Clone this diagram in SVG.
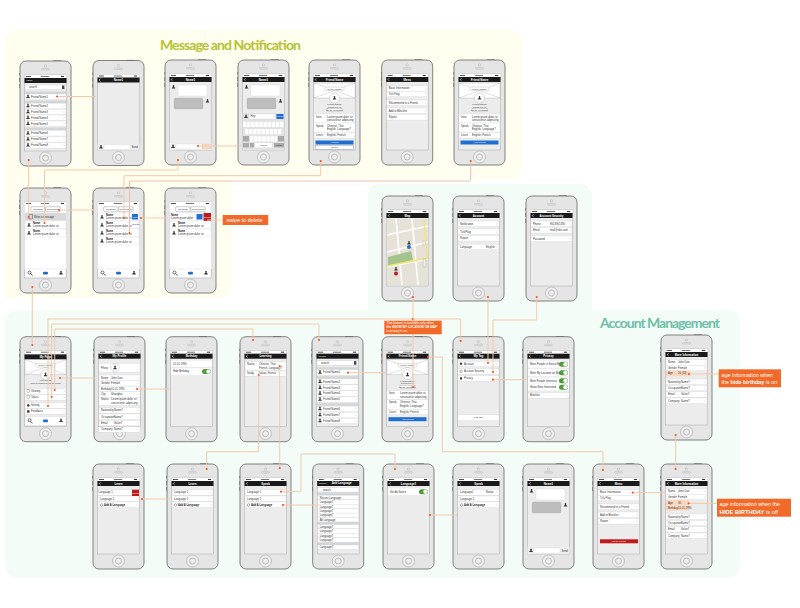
<svg xmlns="http://www.w3.org/2000/svg" xmlns:xlink="http://www.w3.org/1999/xlink" width="800" height="608" viewBox="0 0 800 608">
<style>
text{font-family:"Liberation Sans",Arial,sans-serif}
.t{font-size:2.7px;fill:#333}
.b{font-size:2.7px;fill:#222;font-weight:bold}
.n{font-size:2.9px;fill:#fff;font-weight:bold;text-anchor:middle}
.w{font-size:2.5px;fill:#fff}
.c{font-size:2.5px;fill:#333;text-anchor:middle}
.title{font-family:"Lato","Open Sans",sans-serif;font-size:14px;font-weight:bold}
.lab{font-size:5.4px;fill:#fff}
.lab2{font-size:5.8px;fill:#fff}
.lab3{font-size:3.1px;fill:#fff}
.wire{fill:none;stroke:#f3c9ab;stroke-width:1;marker-start:url(#dot)}
.both{fill:none;stroke:#f3c9ab;stroke-width:1;marker-start:url(#dot);marker-end:url(#dot)}
.wire2{fill:none;stroke:#ecc2ae;stroke-width:1;marker-start:url(#dot);marker-end:url(#dot)}
.plain{fill:none;stroke:#f3c9ab;stroke-width:1}
</style>
<defs>
<marker id="dot" markerUnits="userSpaceOnUse" markerWidth="4" markerHeight="4" refX="2" refY="2"><circle cx="2" cy="2" r="1.1" fill="#f15a22"/></marker>
<g id="phone">
<rect x="-.6" y="12" width="1" height="2.4" fill="#666"/><rect x="-.6" y="17" width="1" height="4" fill="#666"/><rect x="-.6" y="23" width="1" height="4" fill="#666"/><rect x="33" y="-.6" width="8" height="1" fill="#666"/>
<rect x="0" y="0" width="51" height="105" rx="6" fill="#e5e5e5" stroke="#666" stroke-width=".8"/>
<circle cx="25.5" cy="5" r="1.2" fill="none" stroke="#aaa" stroke-width=".4"/><rect x="21.5" y="7.6" width="8" height="1.4" rx=".7" fill="none" stroke="#aaa" stroke-width=".4"/>
<circle cx="25.5" cy="97" r="6" fill="#eee" stroke="#9a9a9a" stroke-width=".5"/><circle cx="25.5" cy="97" r="3" fill="none" stroke="#888" stroke-width=".5"/>
<rect x="4.5" y="14" width="42" height="76" fill="#ececec" stroke="#aaa" stroke-width=".5"/>
<rect x="4.5" y="14" width="42" height="3" fill="#fff"/><rect x="6" y="15" width="5" height="1" fill="#555"/><rect x="21" y="15" width="8" height="1" fill="#777"/><rect x="41" y="15" width="3" height="1" fill="#333"/>
</g>
<g id="nav"><rect x="4.5" y="17" width="42" height="5" fill="#1a1a1a"/><path d="M7.5 18.2 6.2 19.5 7.5 20.8" fill="none" stroke="#fff" stroke-width=".6"/></g>
<g id="r"><rect x="5" y="0" width="41" height="5.5" fill="#fff" stroke="#ccc" stroke-width=".3"/><path d="M43.5 1.8 44.5 2.8 43.5 3.8" fill="none" stroke="#aaa" stroke-width=".3"/></g>
<path id="av" d="M-.8 -1.1a.8 1 0 1 1 1.6 0q0 .8 -.4 1.1q1.2 .3 1.5 1.6h-3.8q.3 -1.3 1.5 -1.6q-.4 -.3 -.4 -1.1" fill="#333"/>
<g id="toggle"><rect x="0" y="0" width="9" height="5" rx="2.5" fill="#4f9a3b"/><circle cx="6.5" cy="2.5" r="2.2" fill="#fff" stroke="#bbb" stroke-width=".2"/></g>
<g id="sec"><rect x="5" y="0" width="41" height="2.6" fill="#d2d6d8"/></g>
<g id="tab"><rect x="5" y="0" width="41" height="8.5" fill="#fff" stroke="#ccc" stroke-width=".3"/><circle cx="9.5" cy="3.5" r="1.5" fill="none" stroke="#333" stroke-width=".7"/><path d="M10.5 4.6 12.5 6.7" stroke="#333" stroke-width=".8"/><rect x="23" y="2.8" width="5" height="2.8" rx="1" fill="#1f6fd0"/><use href="#av" x="41" y="3.8"/></g>
<g id="cover"><rect x="5" y="0" width="41" height="15" fill="#fff" stroke="#999" stroke-width=".3"/><path d="M5 0 46 15M46 0 5 15" stroke="#999" stroke-width=".3"/><rect x="16" y="4" width="19" height="3.4" rx="1" fill="#fff" stroke="#999" stroke-width=".3"/><text class="c" x="25.5" y="6.5">Cover Image</text><circle cx="25.5" cy="15" r="5" fill="#fff" stroke="#888" stroke-width=".3"/><use href="#av" x="25.5" y="15"/></g>
<g id="list">
<rect x="5" y="24" width="41" height="4.5" fill="#fff" stroke="#bbb" stroke-width=".3"/><text class="t" x="9" y="27.2">search</text><rect x="42" y="24.5" width="2.4" height="3.5" fill="#444"/>
<use href="#sec" y="30.5"/><use href="#r" y="33"/><use href="#av" x="8" y="35.5"/><text class="t" x="11" y="36.7">Friend Name1</text>
<use href="#sec" y="39.5"/><use href="#r" y="42.2"/><use href="#av" x="8" y="44.7"/><text class="t" x="11" y="45.9">Friend Name2</text>
<use href="#r" y="48.2"/><use href="#av" x="8" y="50.7"/><text class="t" x="11" y="51.9">Friend Name3</text>
<use href="#r" y="54"/><use href="#av" x="8" y="56.5"/><text class="t" x="11" y="57.7">Friend Name4</text>
<use href="#r" y="60"/><use href="#av" x="8" y="62.5"/><text class="t" x="11" y="63.7">Friend Name5</text>
<use href="#sec" y="66.5"/><use href="#r" y="69.5"/><use href="#av" x="8" y="72"/><text class="t" x="11" y="73.2">Friend Name6</text>
<use href="#r" y="75.5"/><use href="#av" x="8" y="78"/><text class="t" x="11" y="79.2">Friend Name7</text>
<use href="#r" y="81.5"/><use href="#av" x="8" y="84"/><text class="t" x="11" y="85.2">Friend Name8</text>
</g>
<g id="chatbar"><rect x="4.5" y="83" width="42" height="7" fill="#eee"/><use href="#av" x="8" y="86.5"/><rect x="11" y="84" width="26" height="5" fill="#fff" stroke="#ccc" stroke-width=".3"/><text class="t" x="38.5" y="87.5">Send</text></g>
<g id="bubbles"><rect x="13" y="25" width="29" height="11" rx="1.5" fill="#fff" stroke="#ccc" stroke-width=".3"/><rect x="9" y="38" width="29" height="11" rx="1.5" fill="#bdbdbd" stroke="#aaa" stroke-width=".3"/><use href="#av" x="8.5" y="27"/><use href="#av" x="42.5" y="41"/></g>
<g id="person"><text class="c" x="25.5" y="45">Friend Name</text><text class="c" x="25.5" y="47.8">Korea  17 yo</text><rect x="18" y="48.8" width="15" height="3" fill="#fff" stroke="#888" stroke-width=".3"/><text class="c" x="25.5" y="51">Send Message</text>
<rect x="5" y="54" width="41" height="9" fill="#fff" stroke="#ccc" stroke-width=".3"/><text class="t" x="7" y="57.5">Intro</text><text class="t" x="18" y="57.5">Lorem ipsum dolor sit</text><text class="t" x="18" y="61">consectetur adipiscing</text>
<rect x="5" y="63" width="41" height="9.5" fill="#fff" stroke="#ccc" stroke-width=".3"/><text class="t" x="7" y="66.5">Speak</text><text class="t" x="18" y="66.5">Chinese, Thai</text><text class="t" x="18" y="70">English, Language?</text>
<rect x="5" y="72.5" width="41" height="5.5" fill="#fff" stroke="#ccc" stroke-width=".3"/><text class="t" x="7" y="76">Learn</text><text class="t" x="18" y="76">English, French</text></g>
<g id="lang"><use href="#r" y="25.7"/><use href="#r" y="32"/><use href="#r" y="38"/><circle cx="8.5" cy="41" r="1.3" fill="none" stroke="#333" stroke-width=".4"/><text class="b" x="11" y="42">Add A Language</text></g>
<g id="menu"><use href="#r" y="25.7"/><text class="t" x="7" y="29.3">Basic Information</text><use href="#r" y="31.2"/><text class="t" x="7" y="34.8">Tick Flag</text><use href="#r" y="40"/><text class="t" x="7" y="43.6">Recommend to a Friend</text><use href="#r" y="48"/><text class="t" x="7" y="51.6">Add to Blocklist</text><use href="#r" y="54.5"/><text class="t" x="7" y="58.1">Report</text></g>
<g id="info"><use href="#r" y="0"/><text class="t" x="7" y="3.6">Name</text><text class="t" x="17" y="3.6">John Doe</text><use href="#r" y="5.5"/><text class="t" x="7" y="9.1">Gender</text><text class="t" x="17" y="9.1">Female</text></g>
<g id="info2"><use href="#r" y="0"/><text class="t" x="7" y="3.6">Nationality</text><text class="t" x="20" y="3.6">Name7</text><use href="#r" y="6.3"/><text class="t" x="7" y="9.9">Occupation</text><text class="t" x="20" y="9.9">Name7</text><use href="#r" y="12.6"/><text class="t" x="7" y="16.2">Email</text><text class="t" x="20" y="16.2">Value7</text><use href="#r" y="19"/><text class="t" x="7" y="22.6">Company</text><text class="t" x="20" y="22.6">Name7</text></g>
<g id="msgs"><rect x="5" y="0" width="41" height="8" fill="#fff" stroke="#ccc" stroke-width=".3"/><use href="#av" x="9" y="4"/><text class="b" x="13" y="3">Name</text><text class="t" x="13" y="6.2">Lorem ipsum dolor sit</text></g>
<g id="tabs"><rect x="10.7" y="18.7" width="14.5" height="5" rx="1" fill="#fff" stroke="#555" stroke-width=".3"/><rect x="25.7" y="18.7" width="14.5" height="5" rx="1" fill="#fff" stroke="#555" stroke-width=".3"/><text class="c" x="18" y="22">Message</text><text class="c" x="33" y="22">Notification</text></g>
</defs>

<g id="panels">
<path d="M17 30H510a12 12 0 0 1 12 12V167a12 12 0 0 1 -12 12H232V286a12 12 0 0 1 -12 12H5V42a12 12 0 0 1 12 -12Z" fill="#fffeef"/>
<path d="M380 184H580a12 12 0 0 1 12 12V310H728a12 12 0 0 1 12 12V566a12 12 0 0 1 -12 12H17a12 12 0 0 1 -12 -12V322a12 12 0 0 1 12 -12H368V196a12 12 0 0 1 12 -12Z" fill="#f3fcf7"/>
<text class="title" x="160" y="50" fill="#b5c334" textLength="141">Message and Notification</text>
<text class="title" x="600" y="328" fill="#6fbfa8" textLength="120">Account Management</text>
</g>

<g id="screen-inbox" transform="translate(20 61)"><use href="#phone"/><rect x="4.5" y="17" width="42" height="5" fill="#1a1a1a"/><text class="w" x="6.5" y="20.4">Inbox</text><use href="#list"/></g>
<g id="screen-chat-empty" transform="translate(93 60.5)"><use href="#phone"/><use href="#nav"/><text class="n" x="25.5" y="20.5">Name1</text><use href="#chatbar"/></g>
<g id="screen-chat" transform="translate(165 60)"><use href="#phone"/><use href="#nav"/><text class="n" x="25.5" y="20.5">Name1</text><use href="#bubbles"/><use href="#chatbar"/><rect x="37.5" y="84" width="8" height="5" fill="#f8dcc6" stroke="#e8b08a" stroke-width=".3"/></g>
<g id="screen-keyboard" transform="translate(238 60)"><use href="#phone"/><use href="#nav"/><text class="n" x="25.5" y="20.5">Name1</text><use href="#bubbles"/>
<rect x="4.5" y="53" width="42" height="37" fill="#e2e2e2"/><use href="#av" x="8" y="56.5"/><rect x="11" y="54" width="26" height="5" fill="#fff" stroke="#ccc" stroke-width=".3"/><text class="t" x="12.5" y="57.4">Hey</text><rect x="38.5" y="54" width="7" height="5" fill="#1f6fd0"/><text class="w" x="39.2" y="57.4">Send</text>
<path d="M5 64.4H46M7 71.7H44M12 78.8H39" stroke="#fff" stroke-width="5.2" stroke-dasharray="3.4 .7" fill="none"/><rect x="5" y="76" width="6" height="5.4" fill="#aaa"/><rect x="40" y="76" width="6" height="5.4" fill="#aaa"/><rect x="5" y="83" width="6" height="4.4" fill="#aaa"/><rect x="12" y="83" width="4" height="4.4" fill="#aaa"/><rect x="17" y="83" width="17" height="4.4" fill="#fff"/><text class="c" x="25.5" y="86">space</text><rect x="36" y="83" width="10" height="4.4" fill="#aaa"/><text class="c" x="41" y="86">return</text></g>
<g id="screen-friend-a" transform="translate(309 60)"><use href="#phone"/><use href="#nav"/><text class="n" x="25.5" y="20.5">Friend Name</text><g transform="translate(0 23)"><use href="#cover"/></g><use href="#person"/><rect x="6.5" y="80.5" width="38" height="4" fill="#1f6fd0"/><text class="c" style="fill:#fff" x="25.5" y="83.3">Accept</text><rect x="6.5" y="85.3" width="38" height="4" fill="#fff" stroke="#666" stroke-width=".3"/><text class="c" x="25.5" y="88.1">Ignore</text></g>
<g id="screen-menu-a" transform="translate(381.7 60)"><use href="#phone"/><use href="#nav"/><text class="n" x="25.5" y="20.5">Menu</text><use href="#menu"/></g>
<g id="screen-friend-b" transform="translate(454 60)"><use href="#phone"/><use href="#nav"/><text class="n" x="25.5" y="20.5">Friend Name</text><g transform="translate(0 23)"><use href="#cover"/></g><use href="#person"/><rect x="6.5" y="80.5" width="38" height="4" fill="#1f6fd0"/><text class="c" style="fill:#fff" x="25.5" y="83.3">Add Friend</text></g>

<g id="screen-messages" transform="translate(20 188)"><use href="#phone"/><rect x="4.5" y="17" width="42" height="64" fill="#fff"/><use href="#tabs"/><rect x="5" y="25" width="41" height="7.5" fill="#d8d8d8"/><text class="t" x="14" y="29.7">Write a message</text><rect x="9" y="26.5" width="3.5" height="4.5" fill="none" stroke="#333" stroke-width=".4"/><use href="#msgs" y="33"/><use href="#msgs" y="41"/><use href="#tab" y="81"/></g>
<g id="screen-notifications" transform="translate(93 188)"><use href="#phone"/><rect x="4.5" y="17" width="42" height="64" fill="#fff"/><use href="#tabs"/><use href="#msgs" y="25"/><use href="#msgs" y="33"/><use href="#msgs" y="41"/><use href="#msgs" y="49"/><rect x="39" y="26" width="6" height="5.5" fill="#1f6fd0"/><text class="w" x="39.4" y="29.5">Reply</text><text class="w" style="fill:#333" x="39.4" y="37">Delete</text><use href="#tab" y="81"/></g>
<g id="screen-swipe" transform="translate(165 188)"><use href="#phone"/><rect x="4.5" y="17" width="42" height="64" fill="#fff"/><use href="#tabs"/><rect x="5" y="25" width="41" height="8" fill="#fff" stroke="#ccc" stroke-width=".3"/><text class="b" x="6" y="28">Name</text><text class="t" x="6" y="31.2">Lorem ipsum dolor</text><rect x="31.5" y="26" width="6" height="5.5" fill="#1f6fd0"/><rect x="38.5" y="25" width="7.5" height="8" fill="#c01a1a"/><text class="w" x="39" y="29.7">Delete</text><use href="#msgs" y="33"/><use href="#msgs" y="41"/><use href="#tab" y="81"/></g>
<g id="label-swipe"><rect x="222.7" y="215" width="45.5" height="10" fill="#f26a2a"/><text class="lab" x="226.5" y="221.8">swipe to delete</text></g>

<g id="screen-map" transform="translate(382 196)"><use href="#phone"/><use href="#nav"/><text class="n" x="25.5" y="20.5">Map</text><rect x="4.7" y="23" width="41.6" height="66.5" fill="#e6e2d8"/><path d="M5 39 46 30M5 56 46 46M5 71 46 63M14 23 20 89M30 23 36 89" stroke="#fff" stroke-width="1.6" fill="none"/><path d="M6 61 29 55 31 64 6 70Z" fill="#a3c48d"/><path d="M5 70 46 62M42 23 45 62" stroke="#f1e46f" stroke-width="1.3" fill="none"/><use href="#av" x="27" y="47"/><circle cx="27" cy="51" r="2" fill="#1f6fd0"/><use href="#av" x="14" y="73"/><circle cx="14" cy="77.5" r="2" fill="#b4202c"/><rect x="41" y="45" width="2.5" height="4" fill="#fff" stroke="#888" stroke-width=".3"/><rect x="41" y="63" width="3" height="8" fill="#eee" stroke="#888" stroke-width=".3"/></g>
<g id="screen-account" transform="translate(453 196)"><use href="#phone"/><use href="#nav"/><text class="n" x="25.5" y="20.5">Account</text><use href="#r" y="25"/><text class="t" x="7" y="28.6">Notification</text><use href="#r" y="33"/><text class="t" x="7" y="36.6">Tick/Flag</text><use href="#r" y="39.5"/><text class="t" x="7" y="43.1">Report</text><use href="#r" y="48.3"/><text class="t" x="7" y="51.9">Language</text><text class="t" x="33" y="51.9">English</text></g>
<g id="screen-security" transform="translate(526 196)"><use href="#phone"/><use href="#nav"/><text class="n" x="25.5" y="20.5">Account Security</text><use href="#r" y="25"/><text class="t" x="7" y="28.6">Phone</text><text class="t" x="24" y="28.6">8613901280</text><use href="#r" y="31.5"/><text class="t" x="7" y="35.1">Email</text><text class="t" x="24" y="35.1">mail@abc.com</text><use href="#r" y="40"/><text class="t" x="7" y="43.6">Password</text></g>

<g id="screen-mypage" transform="translate(20 336.7)"><use href="#phone"/><rect x="4.5" y="17.7" width="42" height="5" fill="#1a1a1a"/><text class="n" x="25.5" y="21.2">My Page</text><g transform="translate(0 23)"><use href="#cover"/></g><text class="c" x="25.5" y="44.5">Your Name</text><text class="c" x="25.5" y="47.5">Lorem ipsum dolor sit amet</text><use href="#r" y="52"/><text class="t" x="11" y="55.6">Viewing</text><use href="#r" y="58"/><text class="t" x="11" y="61.6">Topics</text><use href="#r" y="66"/><text class="t" x="11" y="69.6">Setting</text><use href="#r" y="72"/><text class="t" x="11" y="75.6">Feedback</text><rect x="7" y="53" width="2.5" height="3" fill="none" stroke="#444" stroke-width=".3"/><rect x="7" y="59" width="2.5" height="3" fill="none" stroke="#444" stroke-width=".3"/><circle cx="8.3" cy="68.7" r="1.3" fill="#444"/><rect x="7" y="73.5" width="2.5" height="2.5" fill="#444"/><use href="#tab" y="80"/></g>
<g id="screen-profile" transform="translate(94 336.7)"><use href="#phone"/><use href="#nav"/><text class="n" x="25.5" y="20.5">My Profile</text><rect x="5" y="26.7" width="41" height="9" fill="#fff" stroke="#ccc" stroke-width=".3"/><text class="t" x="7" y="32">Photo</text><circle cx="21" cy="31" r="4.3" fill="#fff" stroke="#888" stroke-width=".3"/><use href="#av" x="21" y="31"/><g transform="translate(0 38.3)"><use href="#info"/></g><use href="#r" y="49.5"/><text class="t" x="7" y="53.1">Birthday</text><text class="t" x="17" y="53.1">01.01.1990</text><use href="#r" y="55"/><text class="t" x="7" y="58.6">City</text><text class="t" x="17" y="58.6">Shanghai</text><rect x="5" y="60.5" width="41" height="8" fill="#fff" stroke="#ccc" stroke-width=".3"/><text class="t" x="7" y="63.8">Status</text><text class="t" x="17" y="63.8">Lorem ipsum dolor sit</text><text class="t" x="17" y="67.2">consectetur adipiscing</text><g transform="translate(0 71)"><use href="#info2"/></g></g>
<g id="screen-birthday" transform="translate(166 336.7)"><use href="#phone"/><use href="#nav"/><text class="n" x="25.5" y="20.5">Birthday</text><rect x="5" y="24" width="41" height="6" fill="#fff"/><text class="t" x="7" y="28">01.01.1990</text><rect x="5" y="31.7" width="41" height="6.3" fill="#fff"/><text class="t" x="7" y="35.8">Hide Birthday</text><use href="#toggle" x="36" y="32.4"/></g>
<g id="screen-learning" transform="translate(240 336.7)"><use href="#phone"/><use href="#nav"/><text class="n" x="25.5" y="20.5">Learning</text><rect x="5" y="25" width="41" height="8.5" fill="#fff" stroke="#ccc" stroke-width=".3"/><text class="t" x="7" y="28.5">Native</text><text class="t" x="19" y="28.5">Chinese, Thai</text><text class="t" x="19" y="32">French, Language?</text><use href="#r" y="34"/><text class="t" x="7" y="37.6">Study</text><text class="t" x="19" y="37.6">Italian, French</text></g>
<g id="screen-search" transform="translate(312 336.7)"><use href="#phone"/><rect x="4.5" y="17" width="42" height="5" fill="#1a1a1a"/><text class="w" x="6.5" y="20.4">Friend</text><use href="#list"/></g>
<g id="screen-friend-c" transform="translate(382 336.7)"><use href="#phone"/><use href="#nav"/><text class="n" x="25.5" y="20.5">Friend Name</text><g transform="translate(0 23)"><use href="#cover"/></g><use href="#person"/><rect x="6.5" y="80.5" width="38" height="4" fill="#1f6fd0"/><text class="c" style="fill:#fff" x="25.5" y="83.3">Add Friend</text></g>
<g id="screen-mytag" transform="translate(453 336.7)"><use href="#phone"/><use href="#nav"/><text class="n" x="25.5" y="20.5">My Tag</text><use href="#r" y="24.5"/><text class="t" x="11" y="28.1">Account</text><use href="#r" y="32"/><text class="t" x="11" y="35.6">Account Security</text><use href="#r" y="39"/><text class="t" x="11" y="42.6">Privacy</text><rect x="5" y="78" width="41" height="6" fill="#fff" stroke="#ccc" stroke-width=".3"/><text class="c" x="25.5" y="81.8">Log Out</text><circle cx="8" cy="27" r="1.2" fill="#444"/><circle cx="8" cy="34.6" r="1.2" fill="none" stroke="#444" stroke-width=".4"/><rect x="7" y="40.5" width="2" height="2.4" fill="#444"/></g>
<g id="screen-privacy" transform="translate(523 336.7)"><use href="#phone"/><use href="#nav"/><text class="n" x="25.5" y="20.5">Privacy</text><rect x="5" y="24" width="41" height="7" fill="#fff"/><text class="t" x="7" y="28.4">Meet People in Social Me</text><rect x="5" y="32.5" width="41" height="7" fill="#fff"/><text class="t" x="7" y="36.9">Meet My Location on Map</text><rect x="5" y="41" width="41" height="6" fill="#fff"/><text class="t" x="7" y="44.9">Meet People Interesse</text><rect x="5" y="47.5" width="41" height="6" fill="#fff"/><text class="t" x="7" y="51.4">Show Near Interested</text><use href="#toggle" x="36" y="25"/><use href="#toggle" x="36" y="33.5"/><use href="#toggle" x="36" y="41.5"/><use href="#toggle" x="36" y="48"/><use href="#r" y="56"/><text class="t" x="7" y="59.6">Blocklist</text></g>
<g id="screen-moreinfo-on" transform="translate(661 335)"><use href="#phone"/><use href="#nav"/><text class="n" x="25.5" y="20.5">More Information</text><g transform="translate(0 24.7)"><use href="#info"/></g><rect x="5" y="35.7" width="24" height="5.5" fill="#fbd5bc"/><text class="t" x="7" y="39.3">Age</text><text class="t" x="17" y="39.3">20 (30)</text><g transform="translate(0 44)"><use href="#info2"/></g></g>

<g id="screen-learn-delete" transform="translate(93 464)"><use href="#phone"/><use href="#nav"/><text class="n" x="25.5" y="20.5">Learn</text><use href="#lang"/><text class="t" x="5.5" y="29.3">Language 1</text><text class="t" x="7" y="35.6">Language 2</text><rect x="39" y="25.7" width="7" height="6.3" fill="#c01a1a"/><text class="w" x="39.4" y="29.6">Delete</text></g>
<g id="screen-learn" transform="translate(167 464)"><use href="#phone"/><use href="#nav"/><text class="n" x="25.5" y="20.5">Learn</text><use href="#lang"/><text class="t" x="7" y="29.3">Language 1</text><text class="t" x="7" y="35.6">Language 2</text></g>
<g id="screen-speak-a" transform="translate(240 464)"><use href="#phone"/><use href="#nav"/><text class="n" x="25.5" y="20.5">Speak</text><use href="#lang"/><text class="t" x="7" y="29.3">Language 1</text><text class="t" x="7" y="35.6">Language 2</text></g>
<g id="screen-add-language" transform="translate(312.7 464)"><use href="#phone"/><rect x="4.5" y="17" width="42" height="5" fill="#1a1a1a"/><text class="w" x="6" y="20.4">Cancel</text><text class="n" x="29" y="20.4">Add Language</text><rect x="5" y="23.5" width="41" height="4.5" fill="#fff" stroke="#bbb" stroke-width=".3"/><text class="t" x="10" y="26.7">search</text><use href="#sec" y="28.5"/><g fill="#fff" stroke="#ccc" stroke-width=".3"><rect x="5" y="31.5" width="41" height="4.4"/><rect x="5" y="35.9" width="41" height="4.4"/><rect x="5" y="40.3" width="41" height="4.4"/><rect x="5" y="44.7" width="41" height="4.4"/><rect x="5" y="49.1" width="41" height="4.4"/><rect x="5" y="53.5" width="41" height="4.4"/><rect x="5" y="60.5" width="41" height="4.4"/><rect x="5" y="64.9" width="41" height="4.4"/><rect x="5" y="69.3" width="41" height="4.4"/><rect x="5" y="73.7" width="41" height="4.4"/><rect x="5" y="81" width="41" height="4.4"/></g><text class="t" x="7" y="34.7">Recent Language</text><text class="t" x="7" y="39.1">Language7</text><text class="t" x="7" y="43.5">Language7</text><text class="t" x="7" y="47.9">Language7</text><text class="t" x="7" y="52.3">Language7</text><text class="t" x="7" y="56.7">All Language</text><use href="#sec" y="58"/><text class="t" x="7" y="63.7">Language7</text><text class="t" x="7" y="68.1">Language7</text><text class="t" x="7" y="72.5">Language7</text><text class="t" x="7" y="76.9">Language7</text><use href="#sec" y="78.4"/><text class="t" x="7" y="84.2">Language7</text></g>
<g id="screen-language" transform="translate(383 464)"><use href="#phone"/><use href="#nav"/><text class="n" x="25.5" y="20.5">Language1</text><rect x="5" y="24.5" width="41" height="6.5" fill="#fff"/><text class="t" x="7" y="28.8">Set As Native</text><use href="#toggle" x="36" y="25.2"/></g>
<g id="screen-speak-b" transform="translate(453 464)"><use href="#phone"/><use href="#nav"/><text class="n" x="25.5" y="20.5">Speak</text><use href="#lang"/><text class="t" x="7" y="29.3">Language1</text><text class="t" x="33" y="29.3">Native</text><text class="t" x="7" y="35.6">Language 2</text></g>
<g id="screen-chat-b" transform="translate(523 464)"><use href="#phone"/><use href="#nav"/><text class="n" x="25.5" y="20.5">Name1</text><use href="#bubbles"/><use href="#chatbar"/></g>
<g id="screen-menu-b" transform="translate(593 464)"><use href="#phone"/><use href="#nav"/><text class="n" x="25.5" y="20.5">Menu</text><use href="#menu"/><rect x="7" y="75.3" width="38" height="4" fill="#c01a1a"/><text class="c" style="fill:#fff" x="25.5" y="78.1">Add to Friend</text></g>
<g id="screen-moreinfo-off" transform="translate(661 464)"><use href="#phone"/><use href="#nav"/><text class="n" x="25.5" y="20.5">More Information</text><g transform="translate(0 24.7)"><use href="#info"/></g><rect x="5" y="36" width="23" height="5" fill="#fbd5bc"/><text class="t" x="7" y="39.5">Age</text><text class="t" x="17" y="39.5">30</text><rect x="5" y="41.5" width="23" height="5" fill="#fbd5bc"/><text class="t" x="7" y="45">Birthday</text><text class="t" x="17" y="45">01.01.1990</text><g transform="translate(0 50)"><use href="#info2"/></g></g>

<g id="connectors">
<path class="wire" d="M57 96.5H96"/>
<path class="wire" d="M198 146H241.7"/>
<path class="both" d="M28.7 160V217"/>
<path class="both" d="M178 160V170H44.5V223"/>
<path class="both" d="M320.7 161V175.7H124V218"/>
<path class="wire2" d="M470.7 161V181H129.5V233"/>
<path class="wire" d="M59 210H95"/>
<path class="wire" d="M141 218H168"/>
<path class="plain" d="M207 220H223"/>
<path class="both" d="M32.3 287V345"/>
<path class="both" d="M413 297V319H48V406"/>
<path class="both" d="M413 319V387"/>
<path class="both" d="M488 297V363"/>
<path class="both" d="M536.7 297V320H493V372"/>
<path class="both" d="M319 340V324H51.7V397"/>
<path class="both" d="M253 340V329H54.7V390"/>
<path class="wire" d="M460.7 341V319H413"/>
<path class="wire" d="M60 378H94"/>
<path class="wire" d="M137 389H168.7"/>
<path class="both" d="M258.7 375V451.7H206.7V469"/>
<path class="both" d="M279.7 366V468"/>
<path class="wire" d="M348 372.7H386.7"/>
<path class="wire" d="M493 379.7H526.7"/>
<path class="both" d="M428 357H442.3V451.7H603V470"/>
<path class="wire" d="M142 499H170"/>
<path class="wire" d="M283 505H317"/>
<path class="both" d="M281 491.7H301V454H395V469"/>
<path class="wire" d="M430 515H457"/>
<path class="wire" d="M632.7 492.7H665"/>
<path class="both" d="M675.7 435V469"/>
<path class="wire" d="M689 374H719"/>
<path class="wire" d="M688.7 503.3H718"/>
</g>

<g id="label-location"><rect x="384.3" y="320.7" width="57.4" height="13.6" fill="#f26a2a"/><text class="lab3" x="386.5" y="324.4">This feature is available only when</text><text class="lab3" x="386.5" y="328.4" font-weight="bold">the SHOW MY LOCATION ON MAP</text><text class="lab3" x="386.5" y="332.4">in privacy is on.</text></g>
<g id="label-on"><rect x="718.7" y="369.3" width="62.3" height="18" fill="#f26a2a"/><text class="lab" x="721.5" y="376.5">age information when</text><text class="lab" x="721.5" y="384">the <tspan font-weight="bold">hide birthday</tspan> is on</text></g>
<g id="label-off"><rect x="717" y="498.7" width="74" height="18" fill="#f26a2a"/><text class="lab" x="719.5" y="505.8">age information when the</text><text class="lab2" x="719.5" y="513.6"><tspan font-weight="bold">HIDE BIRTHDAY</tspan> is off</text></g>
</svg>
